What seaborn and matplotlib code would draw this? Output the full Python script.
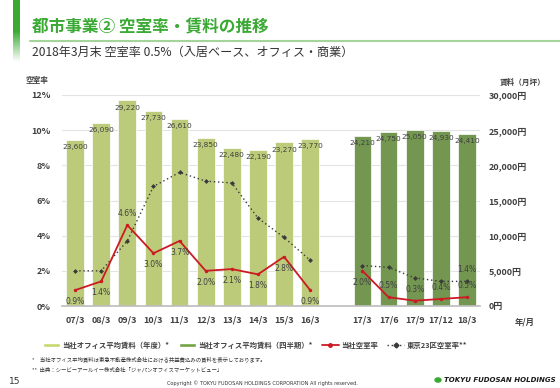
import numpy as np
import pandas as pd
import matplotlib.pyplot as plt
import seaborn as sns
from matplotlib.patches import Patch, Circle
from matplotlib.lines import Line2D
from matplotlib.colors import LinearSegmentedColormap

# Data
annual_periods = ["07/3", "08/3", "09/3", "10/3", "11/3", "12/3", "13/3", "14/3", "15/3", "16/3"]
quarter_periods = ["17/3", "17/6", "17/9", "17/12", "18/3"]
annual_rent = [23600, 26090, 29220, 27730, 26610, 23850, 22480, 22190, 23270, 23770]
quarter_rent = [24210, 24750, 25050, 24930, 24410]
annual_vacancy = [0.9, 1.4, 4.6, 3.0, 3.7, 2.0, 2.1, 1.8, 2.8, 0.9]
quarter_vacancy = [2.0, 0.5, 0.3, 0.4, 0.5]
annual_tokyo = [2.0, 2.0, 3.7, 6.8, 7.6, 7.1, 7.0, 5.0, 3.9, 2.6]
quarter_tokyo = [2.3, 2.2, 1.6, 1.4, 1.4]

GAP = " "
order = annual_periods + [GAP] + quarter_periods
kind_annual = "当社オフィス平均賃料（年度）*"
kind_quarter = "当社オフィス平均賃料（四半期）*"

df = pd.DataFrame({
    "period": annual_periods + quarter_periods,
    "rent": annual_rent + quarter_rent,
    "kind": [kind_annual] * len(annual_periods) + [kind_quarter] * len(quarter_periods),
})

light_green = "#C5D86D"
dark_green = "#73A245"
red = "#CC1A22"
gray_txt = "#404040"
jp = ["Noto Sans CJK JP", "DejaVu Sans"]

sns.set_theme(style="white")
plt.rcParams["font.family"] = jp

fig = plt.figure(figsize=(5.6, 3.88), dpi=100)

def px(x, y):
    return x / 560, 1 - y / 388

# header
hb = fig.add_axes([13 / 560, 1 - 62 / 388, 7 / 560, 62 / 388])
cmap = LinearSegmentedColormap.from_list("g", ["#3BAA34", "#3BAA34", "#FFFFFF"])
hb.imshow(np.linspace(0, 1, 100).reshape(-1, 1), aspect="auto", cmap=cmap)
hb.axis("off")
fig.text(*px(32, 27), "都市事業② 空室率・賃料の推移", color="#3BAA34", fontsize=12,
         fontweight="bold", va="center", ha="left")
fig.add_artist(Line2D([30 / 560, 1], [1 - 41 / 388] * 2, color="#A5D49A", lw=1.5))
fig.text(*px(32, 52), "2018年3月末 空室率 0.5%（入居ベース、オフィス・商業）", color="#333333",
         fontsize=8.7, va="center", ha="left")

# main axes: ax = vacancy (left), ax2 = rent (right)
ax = fig.add_axes([62 / 560, 1 - 306 / 388, 418 / 560, 211 / 388])
ax2 = ax.twinx()
ax.set_zorder(ax2.get_zorder() + 1)
ax.patch.set_visible(False)

sns.barplot(data=df, x="period", y="rent", hue="kind", order=order, dodge=False,
            palette=[light_green, dark_green], width=0.68, ax=ax2, legend=False,
            edgecolor="white", linewidth=0.5)
ax2.set_ylim(0, 30000)
ax2.set_yticks(np.arange(0, 30001, 5000))
ax2.set_yticklabels([f"{v:,}円" for v in range(0, 30001, 5000)])
ax2.yaxis.grid(True, color="#E3E3E3", lw=0.8)
ax2.set_axisbelow(True)
ax2.set_xlabel("")
ax2.set_ylabel("")

for p in ax2.patches:
    h = p.get_height()
    if h and h > 0:
        ax2.annotate(f"{h:,.0f}", (p.get_x() + p.get_width() / 2, h), xytext=(0, -3),
                     textcoords="offset points", ha="center", va="top", fontsize=5.3,
                     color=gray_txt, family="DejaVu Sans")

pos_a = [order.index(p) for p in annual_periods]
pos_q = [order.index(p) for p in quarter_periods]

for xs, vac, tok in [(pos_a, annual_vacancy, annual_tokyo), (pos_q, quarter_vacancy, quarter_tokyo)]:
    sns.lineplot(x=xs, y=tok, ax=ax, color="#3A3A3A", lw=1.0, linestyle=(0, (1, 2)),
                 marker="D", markersize=2.5, markeredgewidth=0, legend=False)
    sns.lineplot(x=xs, y=vac, ax=ax, color=red, lw=1.3, marker="o", markersize=2.5,
                 markeredgewidth=0, legend=False)

above = {2, 12, 13, 14, 15}
all_vac = annual_vacancy + quarter_vacancy
for x, v in zip(pos_a + pos_q, all_vac):
    off = 5 if x in above else -5
    ax.annotate(f"{v:.1f}%", (x, v), xytext=(0, off), textcoords="offset points",
                ha="center", va="bottom" if off > 0 else "top", fontsize=5.5,
                color=gray_txt, family="DejaVu Sans")
ax.annotate(f"{quarter_tokyo[-1]:.1f}%", (pos_q[-1], quarter_tokyo[-1]), xytext=(0, 5),
            textcoords="offset points", ha="center", va="bottom", fontsize=5.5,
            color=gray_txt, family="DejaVu Sans")

ax.set_ylim(0, 12)
ax.set_yticks(range(0, 13, 2))
ax.set_yticklabels([f"{v}%" for v in range(0, 13, 2)])
ax.set_xlim(-0.5, len(order) - 0.5)
ax.set_xticks(range(len(order)))
ax.set_xticklabels(order)
ax.set_xticks(np.arange(-0.5, len(order), 1.0), minor=True)

for a in (ax, ax2):
    for s in ("top", "left", "right"):
        a.spines[s].set_visible(False)
    a.spines["bottom"].set_color("#BFBFBF")
ax2.spines["bottom"].set_visible(False)
ax.tick_params(axis="x", which="major", length=0, pad=7, labelsize=6.5, labelcolor=gray_txt)
ax.tick_params(axis="x", which="minor", length=3, color="#BFBFBF", width=0.8)
ax.tick_params(axis="y", length=0, pad=8, labelsize=6.5, labelcolor=gray_txt)
ax2.tick_params(axis="y", length=0, pad=6, labelsize=6.5, labelcolor=gray_txt)
for lab in ax.get_xticklabels() + ax.get_yticklabels() + ax2.get_yticklabels():
    lab.set_fontweight("bold")

fig.text(*px(37, 81), "空室率", fontsize=5.5, fontweight="bold", color=gray_txt, ha="center", va="center")
fig.text(*px(523, 82), "賃料（月坪）", fontsize=5.5, fontweight="bold", color=gray_txt, ha="center", va="center")
fig.text(*px(525, 322), "年/月", fontsize=6, fontweight="bold", color=gray_txt, ha="center", va="center")

handles = [
    Patch(facecolor=light_green, label=kind_annual),
    Patch(facecolor=dark_green, label=kind_quarter),
    Line2D([], [], color=red, lw=1.3, marker="o", markersize=2.5, label="当社空室率"),
    Line2D([], [], color="#3A3A3A", lw=1.0, linestyle=(0, (1, 2)), marker="D", markersize=2.5,
           label="東京23区空室率**"),
]
fig.legend(handles=handles, loc="center", bbox_to_anchor=(px(255, 345)), ncol=4, frameon=False,
           prop={"family": jp, "size": 5.3, "weight": "bold"}, handlelength=2.3, handleheight=0.5,
           columnspacing=1.3, handletextpad=0.3, labelcolor=gray_txt)

fig.text(*px(32, 359), "*　当社オフィス平均賃料は東急不動産株式会社における共益費込みの賃料を表示しております。",
         fontsize=3.9, color="#333333", ha="left", va="center")
fig.text(*px(32, 370), "**  出典：シービーアールイー株式会社「ジャパンオフィスマーケットビュー」",
         fontsize=3.9, color="#333333", ha="left", va="center")
fig.text(*px(15, 381), "15", fontsize=6.5, color="#333333", ha="center", va="center", family="DejaVu Sans")
fig.text(*px(262, 383), "Copyright © TOKYU FUDOSAN HOLDINGS CORPORATION All rights reserved.",
         fontsize=3.6, color="#333333", ha="center", va="center", family="DejaVu Sans")
fig.add_artist(Circle(px(438, 380), 3.0 / 560, color="#3BAA34", transform=fig.transFigure))
fig.text(*px(444, 380), "TOKYU FUDOSAN HOLDINGS", fontsize=5.0, fontweight="bold", style="italic",
         color="#1A1A1A", ha="left", va="center", family="DejaVu Sans")

fig.savefig("out.png", dpi=100)
